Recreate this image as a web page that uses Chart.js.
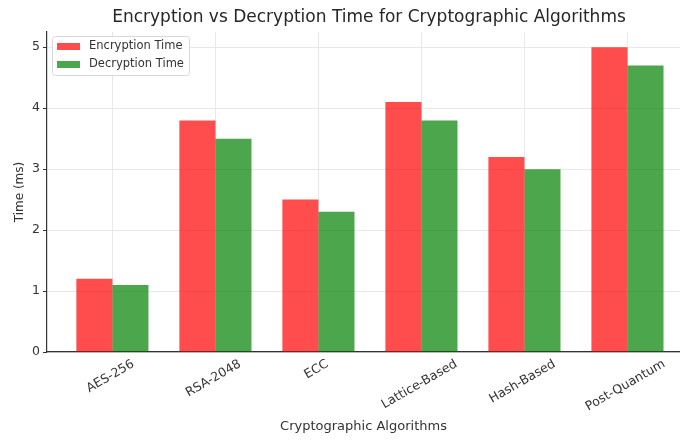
<!DOCTYPE html>
<html>
<head>
<meta charset="utf-8">
<script src="https://cdn.jsdelivr.net/npm/chart.js@4.4.0/dist/chart.umd.min.js"></script>
<style>
  html, body { margin: 0; padding: 0; background: #fff; }
  #wrap { width: 680px; height: 440px; }
</style>
</head>
<body>
<div id="wrap"><canvas id="chart"></canvas></div>
<script>
// ── dados ──────────────────────────────────────────────────
const algoritmos  = ['AES-256', 'RSA-2048', 'ECC', 'Lattice-Based', 'Hash-Based', 'Post-Quantum'];
const encryptTime = [1.2, 3.8, 2.5, 4.1, 3.2, 5.0];
const decryptTime = [1.1, 3.5, 2.3, 3.8, 3.0, 4.7];
const yTicks      = [0, 1, 2, 3, 4, 5];
const serieNomes  = ['Encryption Time', 'Decryption Time'];

const TXT   = '#333333';
const RED   = 'rgba(255,0,0,0.7)';
const GREEN = 'rgba(0,128,0,0.7)';
const FONT  = "'DejaVu Sans', 'Liberation Sans', sans-serif";

Chart.defaults.font.family = FONT;
Chart.defaults.color = TXT;

// título, rótulos rotacionados e legenda desenhados à mão
const extras = {
  id: 'extras',
  afterDraw(chart) {
    const { ctx, scales: { x }, chartArea } = chart;
    ctx.save();
    ctx.fillStyle = '#262626';
    ctx.font = `17px ${FONT}`;
    ctx.textAlign = 'center';
    ctx.textBaseline = 'middle';
    ctx.fillText('Encryption vs Decryption Time for Cryptographic Algorithms', 369, 18);

    // rótulos do eixo x, 30°, centralizados no tick
    ctx.font = `12.5px ${FONT}`;
    ctx.fillStyle = TXT;
    const ang = Math.PI / 6;
    algoritmos.forEach((lbl, i) => {
      const w = ctx.measureText(lbl).width;
      const h = 12;
      const bh = w * Math.sin(ang) + h * Math.cos(ang);
      const px = x.getPixelForValue(i);
      ctx.save();
      ctx.translate(px - 2, chartArea.bottom + 6 + bh / 2);
      ctx.rotate(-ang);
      ctx.fillText(lbl, 0, 0);
      ctx.restore();
    });

    // legenda
    const lx = 52, ly = 36, lw = 137, lh = 39;
    ctx.fillStyle = 'rgba(255,255,255,0.85)';
    ctx.strokeStyle = '#d9d9d9';
    ctx.lineWidth = 1;
    ctx.beginPath();
    ctx.roundRect(lx + 0.5, ly + 0.5, lw, lh, 3);
    ctx.fill();
    ctx.stroke();
    ctx.font = `11.5px ${FONT}`;
    ctx.textAlign = 'left';
    [RED, GREEN].forEach((c, i) => {
      const yy = 46.5 + i * 18;
      ctx.fillStyle = c;
      ctx.fillRect(57, yy - 3.5, 23, 7);
      ctx.fillStyle = TXT;
      ctx.fillText(serieNomes[i], 89, yy);
    });
    ctx.restore();
  }
};

new Chart(document.getElementById('chart'), {
  type: 'bar',
  data: {
    datasets: [
      { label: serieNomes[0], data: encryptTime.map((v, i) => ({ x: i, y: v })), backgroundColor: RED },
      { label: serieNomes[1], data: decryptTime.map((v, i) => ({ x: i, y: v })), backgroundColor: GREEN },
    ]
  },
  options: {
    responsive: true,
    maintainAspectRatio: false,
    animation: false,
    categoryPercentage: 0.7,
    barPercentage: 1.0,
    layout: { padding: { top: 32, right: 0, bottom: 0, left: 0 } },
    plugins: { legend: { display: false }, tooltip: { enabled: false } },
    scales: {
      x: {
        type: 'linear',
        offset: false,
        min: -0.635,
        max: 5.51,
        afterBuildTicks: s => { s.ticks = algoritmos.map((_, i) => ({ value: i })); },
        afterFit: s => { s.height = 88; },
        ticks: { display: false },
        grid: { color: '#e8e8e8', drawTicks: false, offset: false },
        border: { color: TXT, width: 1.2 },
        title: { display: true, text: 'Cryptographic Algorithms', font: { size: 13 }, color: TXT, padding: { top: 0, bottom: 6 } }
      },
      y: {
        min: 0,
        max: 5.25,
        afterBuildTicks: s => { s.ticks = yTicks.map(v => ({ value: v })); },
        afterFit: s => { s.width = 47; },
        ticks: { font: { size: 12.5 }, color: TXT, padding: 3 },
        grid: { color: '#e8e8e8', tickColor: TXT, tickLength: 4 },
        border: { color: TXT, width: 1.2 },
        title: { display: true, text: 'Time (ms)', font: { size: 12 }, color: TXT, padding: { top: 13, bottom: 0 } }
      }
    }
  },
  plugins: [extras]
});
</script>
</body>
</html>
